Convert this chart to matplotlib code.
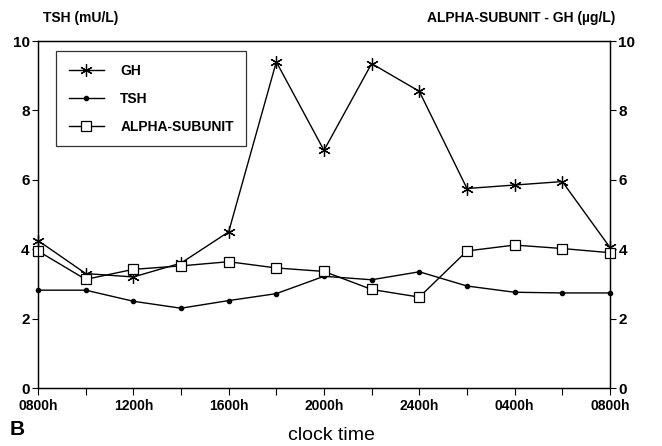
import matplotlib
matplotlib.use("Agg")
import matplotlib.pyplot as plt

hours = [0, 2, 4, 6, 8, 10, 12, 14, 16, 18, 20, 22, 24]
tick_hours = [0, 4, 8, 12, 16, 20, 24]
tick_labels = ["0800h", "1200h", "1600h", "2000h", "2400h", "0400h", "0800h"]
gh = [4.25, 3.3, 3.2, 3.6, 4.5, 9.4, 6.85, 9.35, 8.55, 5.75, 5.85, 5.95, 4.05]
tsh = [2.82, 2.82, 2.5, 2.3, 2.52, 2.72, 3.22, 3.12, 3.35, 2.94, 2.76, 2.74, 2.74]
alpha = [3.95, 3.13, 3.42, 3.52, 3.64, 3.46, 3.36, 2.84, 2.62, 3.95, 4.12, 4.02, 3.9]

plt.rcParams['font.family'] = ['Liberation Sans', 'DejaVu Sans']

fig = plt.figure(figsize=(6.62, 4.46), dpi=100)
ax = fig.add_axes([0.0574, 0.130, 0.864, 0.778])
ax2 = ax.twinx()

lw = 1.0
l1, = ax2.plot(hours, gh, color='black', lw=lw, marker=(6, 2, 0), markersize=9,
               markeredgewidth=0.9, label='GH', clip_on=False)
l2, = ax.plot(hours, tsh, color='black', lw=lw, marker='o', markersize=3, label='TSH',
              clip_on=False)
l3, = ax2.plot(hours, alpha, color='black', lw=lw, marker='s', markersize=7,
               markerfacecolor='white', markeredgewidth=0.9, label='ALPHA-SUBUNIT',
               clip_on=False)

for a in (ax, ax2):
    a.set_xlim(0, 24)
    a.set_ylim(0, 10)
    for s in a.spines.values():
        s.set_linewidth(0.9)

ax.set_xticks(hours)
ax.set_xticklabels([tick_labels[tick_hours.index(h)] if h in tick_hours else '' for h in hours],
                   fontsize=10, fontweight='bold')
ax.set_yticks([0, 2, 4, 6, 8, 10])
ax.set_yticklabels(['0', '2', '4', '6', '8', '10'], fontsize=11, fontweight='bold')
ax2.set_yticks([0, 2, 4, 6, 8, 10])
ax2.set_yticklabels(['0', '2', '4', '6', '8', '10'], fontsize=11, fontweight='bold')
ax.tick_params(axis='x', direction='out', length=5, width=0.8, pad=3)
ax.tick_params(axis='y', direction='out', length=4, width=0.8, pad=2)
ax2.tick_params(axis='y', direction='out', length=4, width=0.8, pad=2)

fig.text(0.065, 0.945, 'TSH (mU/L)', fontsize=10, fontweight='bold', ha='left', va='bottom')
fig.text(0.93, 0.945, 'ALPHA-SUBUNIT - GH (\u00b5g/L)', fontsize=10, fontweight='bold',
         ha='right', va='bottom')
fig.text(0.015, 0.015, 'B', fontsize=15, fontweight='bold', ha='left', va='bottom')
fig.text(0.5, 0.005, 'clock time', fontsize=14, ha='center', va='bottom')

leg = ax.legend(handles=[l1, l2, l3], loc='upper left', bbox_to_anchor=(0.02, 0.99),
                frameon=True, fancybox=False, edgecolor='black',
                handlelength=2.5, borderpad=0.9, labelspacing=1.0, handletextpad=1.2,
                prop={'weight': 'bold', 'size': 10})
leg.get_frame().set_linewidth(0.9)
leg.set_zorder(5)

fig.savefig('out.png', dpi=100)
